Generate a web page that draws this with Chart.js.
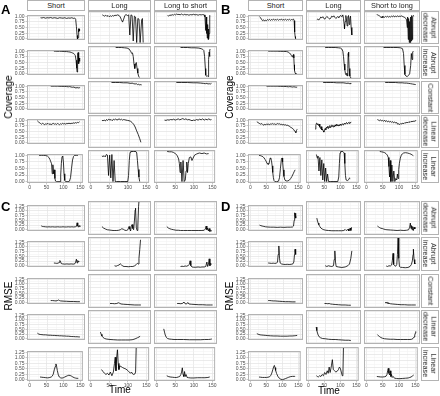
<!DOCTYPE html>
<html><head><meta charset="utf-8">
<script src="https://cdn.jsdelivr.net/npm/chart.js@4.4.1/dist/chart.umd.min.js"></script>
<style>
html,body{margin:0;padding:0;background:#fff}
body{width:440px;height:396px;position:relative;overflow:hidden;font-family:"Liberation Sans",Arial,sans-serif;-webkit-font-smoothing:antialiased}
canvas{position:absolute}
.strip{position:absolute;box-sizing:border-box;border:1px solid #b3b3b3;background:#fff;color:#1a1a1a;font-size:7.4px;display:flex;align-items:center;justify-content:center;text-align:center;white-space:nowrap}
.strip span{display:block;transform:rotate(90deg);will-change:transform;line-height:7.6px;font-size:7.2px;white-space:nowrap;text-align:center;color:#1a1a1a}
.t{position:absolute;color:#000;white-space:nowrap}
</style></head><body>
<script>
// ---------- categories & ticks ----------
const colsAC = ['Short','Long','Long to short'];
const colsBD = ['Short','Long','Short to long'];
const rowLabels = ['Abrupt\ndecrease','Abrupt\nincrease','Constant','Linear\ndecrease','Linear\nincrease'];
const timeTicks = [0,50,100,150];
const timeGrid = [0,25,50,75,100,125,150];
const covGrid = [0,0.125,0.25,0.375,0.5,0.625,0.75,0.875,1];
const rmseGrid = [0,0.125,0.25,0.375,0.5,0.625,0.75,0.875,1,1.125,1.25];

// ---------- Panel A: Coverage (Short / Long / Long to short) ----------
const A_abDec_short=[[31,.93],[35,.92],[40,.94],[45,.91],[50,.93],[55,.92],[60,.94],[65,.91],[70,.93],[75,.92],[80,.90],[85,.93],[90,.92],[95,.91],[100,.93],[105,.90],[110,.92],[115,.91],[120,.93],[125,.90],[128,.92],[131,.86],[133,.55],[135,.15],[136,0],[138,.05],[139,.45],[140,.3],[141,.44],[142,.35]];
const A_abDec_long=[[30,.92],[33,.9],[36,.88],[39,.91],[42,.87],[45,.9],[48,.86],[51,.89],[54,.87],[57,.9],[60,.88],[63,.91],[66,.9],[70,.92],[74,.9],[77,.85],[80,.76],[83,.68],[86,.78],[89,.9],[92,.93],[96,.9],[99,.92],[102,.25],[105,.92],[108,.9],[111,.05],[114,.88],[117,.85],[120,0],[123,.8],[126,.78],[129,0],[131,0],[133,.75],[135,.8],[137,0]];
const A_abDec_l2s=[[28,.9],[31,.88],[34,.92],[37,.9],[40,.93],[43,.91],[46,.94],[49,.92],[52,.95],[55,.93],[58,.94],[61,.92],[64,.95],[67,.93],[70,.92],[73,.94],[76,.92],[80,.93],[84,.91],[88,.93],[92,.92],[96,.94],[100,.92],[104,.93],[108,.91],[112,.93],[116,.92],[120,.93],[124,.92],[126,.85],[128,.4],[129,.85],[130,.3],[131,.7],[132,.15],[133,.6],[134,.1],[135,.45],[136,.12],[137,.3],[138,.85],[139,.9],[140,.88]];
const A_abInc_short=[[69,1],[75,1],[80,.99],[85,1],[90,.99],[95,.99],[100,.98],[105,.98],[110,.97],[115,.96],[119,.94],[122,.92],[125,.9],[128,.85],[130,.8],[132,.6],[134,.25],[135,.08],[136,.5],[137,.9],[138,.94],[139,.7],[140,.45],[141,.7],[142,.55],[143,.68]];
const A_abInc_long=[[65,1],[72,1],[80,1],[88,.99],[95,.98],[100,.95],[104,.88],[107,.8],[109,.82],[111,.7],[113,.45],[115,.3],[117,.45],[119,.5],[121,.3],[123,.15],[125,.05],[127,0],[128,0]];
const A_abInc_l2s=[[62,1],[70,1],[80,1],[90,.99],[100,.99],[110,.98],[116,.96],[120,.94],[123,.9],[125,.7],[127,.3],[128,.08],[130,.04],[132,.06],[134,.03],[135,.2],[136,.6],[137,.85],[138,.7],[139,.92],[140,.95]];
const A_const_short=[[60,1],[70,1],[80,1],[90,.99],[100,.99],[105,.98],[110,.97],[114,.98],[118,.96],[122,.95],[126,.96],[129,.93],[132,.92],[135,.94],[138,.92],[141,.93],[143,.94]];
const A_const_long=[[54,1],[65,1],[75,1],[85,.99],[95,.99],[100,.98],[105,.97],[108,.98],[112,.96],[116,.95],[119,.96],[122,.93],[125,.94],[128,.92],[131,.93],[133,.92]];
const A_const_l2s=[[51,1],[65,1],[80,1],[95,.99],[105,.99],[115,.98],[122,.97],[127,.96],[131,.97],[134,.95],[137,.96],[140,.95],[143,.97]];
const A_linDec_short=[[22,.97],[25,.93],[28,.88],[31,.85],[34,.82],[37,.86],[40,.83],[43,.8],[46,.84],[49,.82],[52,.86],[55,.81],[58,.84],[61,.8],[64,.83],[67,.86],[70,.82],[73,.84],[76,.81],[79,.85],[82,.83],[85,.8],[88,.84],[91,.82],[94,.86],[97,.83],[100,.85],[103,.82],[106,.86],[109,.84],[112,.87],[115,.84],[118,.86],[121,.85],[124,.88],[127,.86],[130,.89],[133,.87],[136,.9],[139,.89],[142,.93]];
const A_linDec_long=[[29,.87],[32,.86],[35,.88],[38,.85],[41,.9],[44,.87],[47,.91],[50,.88],[53,.9],[56,.86],[59,.91],[62,.89],[65,.92],[68,.88],[71,.9],[74,.92],[77,.89],[80,.91],[83,.88],[86,.9],[89,.89],[92,.88],[96,.87],[100,.86],[104,.84],[108,.8],[112,.74],[116,.65],[120,.52],[124,.4],[128,.26],[131,.14]];
const A_linDec_l2s=[[20,.88],[24,.87],[28,.89],[32,.88],[36,.9],[40,.89],[44,.91],[48,.88],[52,.9],[56,.92],[60,.89],[64,.91],[68,.93],[72,.9],[76,.92],[80,.89],[84,.9],[88,.88],[92,.86],[96,.88],[100,.87],[104,.9],[108,.88],[112,.91],[116,.89],[120,.92],[124,.88],[128,.91],[132,.89],[136,.92],[140,.89],[143,.9]];
const A_linInc_short=[[28,1],[35,1],[42,1],[48,.99],[53,.97],[57,.92],[60,.85],[63,.75],[65,.68],[67,.3],[69,.64],[71,.3],[73,.45],[75,.12],[77,.02],[80,0],[84,0],[90,0],[92,.25],[94,.7],[96,.95],[98,.97],[100,.75],[102,.3],[104,.05],[107,0],[114,0],[118,.02],[121,.15],[124,.5],[127,.82],[130,.96],[133,1],[138,1],[143,1]];
const A_linInc_long=[[30,.85],[33,.83],[36,.86],[39,.82],[42,.9],[45,.88],[48,.2],[51,.88],[54,.12],[57,.9],[60,0],[63,.7],[66,0],[70,0],[80,0],[90,0],[100,0],[102,.2],[104,.7],[106,.97],[108,1],[115,1],[122,1],[124,.95],[126,.7],[128,.4],[130,.15],[132,0]];
const A_linInc_l2s=[[28,1],[34,.99],[40,.99],[45,.97],[50,.93],[55,.87],[59,.75],[61,.6],[63,.3],[65,.65],[68,0],[71,.7],[74,0],[77,.05],[79,.35],[81,.65],[83,.3],[85,.6],[88,.8],[92,.82],[95,.7],[98,.78],[102,.88],[108,.92],[115,.95],[122,.93],[128,.95],[134,.92],[140,.93]];

// ---------- Panel B: Coverage (Short / Long / Short to long) ----------
const B_abDec_short=[[27,.98],[30,.93],[33,.86],[36,.8],[39,.84],[42,.78],[45,.83],[48,.8],[51,.85],[54,.82],[57,.86],[60,.81],[63,.85],[66,.83],[69,.87],[72,.82],[75,.85],[78,.83],[81,.86],[84,.82],[87,.85],[90,.84],[93,.87],[96,.82],[99,.85],[102,.83],[105,.86],[108,.82],[111,.85],[114,.83],[117,.86],[120,.82],[123,.85],[126,.84],[129,.87],[131,.8],[132,.55],[133,.3],[134,.1],[135,.02],[137,0],[139,0]];
const B_abDec_long=[[25,.76],[28,.78],[31,.75],[34,.8],[37,.85],[40,.82],[43,.86],[46,.8],[49,.78],[52,.83],[55,.87],[58,.84],[61,.8],[64,.78],[67,.82],[70,.88],[73,.85],[76,.89],[79,.84],[82,.8],[85,.83],[88,.87],[91,.82],[94,.88],[97,.9],[100,.86],[103,.92],[105,.8],[107,.6],[108,.45],[110,.7],[112,.9],[114,.75],[116,.55],[118,.85],[120,.9],[122,.6],[124,.8],[126,.88],[128,.5],[130,.25]];
const B_abDec_s2l=[[30,.93],[33,.92],[36,.9],[39,.88],[42,.85],[44,.82],[46,.87],[48,.83],[50,.86],[53,.84],[56,.87],[59,.85],[62,.88],[65,.84],[68,.87],[71,.85],[74,.88],[77,.86],[80,.89],[83,.85],[86,.88],[89,.86],[92,.89],[95,.86],[98,.88],[101,.87],[104,.89],[107,.86],[110,.85],[113,.83],[116,.8],[118,.75],[120,.5],[121,.85],[123,.1],[124,.8],[126,0],[127,.7],[129,0],[130,.85],[132,.05],[133,.9],[135,.1],[136,.85],[138,.9],[140,.88]];
const B_abInc_short=[[53,1],[60,1],[70,1],[80,1],[90,.99],[100,.99],[108,.98],[113,.96],[117,.92],[120,.87],[123,.8],[125,.75],[127,.82],[129,.85],[130,.7],[131,.4],[132,.15],[134,.03],[136,0],[138,0]];
const B_abInc_long=[[50,1],[60,1],[70,1],[80,1],[90,.99],[96,.98],[100,.95],[103,.88],[105,.7],[107,.45],[109,.25],[111,.12],[113,.08],[115,.15],[117,.05],[118,.3],[119,.8],[120,.85],[121,.7],[122,.3],[124,.05],[126,0],[128,0]];
const B_abInc_s2l=[[50,1],[60,1],[70,1],[80,1],[90,1],[100,.99],[106,.96],[109,.8],[111,.4],[113,.1],[116,.05],[120,.03],[124,.08],[127,.12],[130,.4],[132,.8],[134,.6],[136,.85],[138,.88]];
const B_const_short=[[48,1],[60,1],[70,1],[80,1],[90,.99],[100,.99],[108,.98],[114,.97],[118,.98],[122,.97],[126,.96],[130,.97],[134,.96],[137,.95],[140,.96]];
const B_const_long=[[44,1],[55,1],[65,1],[75,1],[85,.99],[95,.99],[104,.99],[110,.98],[115,.97],[119,.98],[122,.96],[125,.97],[127,.95]];
const B_const_s2l=[[55,1],[65,1],[75,1],[85,1],[95,.99],[105,.99],[112,.98],[118,.98],[124,.97],[130,.96],[135,.95],[140,.94],[145,.93]];
const B_linDec_short=[[19,.93],[22,.9],[25,.87],[28,.84],[31,.82],[34,.85],[37,.8],[40,.78],[43,.82],[46,.79],[49,.84],[52,.8],[55,.83],[58,.8],[61,.84],[64,.82],[67,.85],[70,.81],[73,.84],[76,.8],[79,.83],[82,.85],[85,.82],[88,.84],[91,.8],[94,.82],[97,.79],[100,.81],[103,.78],[106,.8],[109,.76],[112,.78],[115,.74],[118,.72],[121,.68],[124,.66],[127,.62],[130,.58],[132,.52],[134,.5],[136,.45],[138,.55],[140,.6]];
const B_linDec_long=[[20,.58],[22,.7],[24,.78],[26,.76],[28,.73],[30,.7],[32,.75],[34,.65],[36,.6],[38,.66],[40,.55],[42,.58],[44,.52],[46,.48],[48,.55],[50,.6],[52,.56],[54,.65],[56,.62],[58,.68],[60,.6],[62,.64],[64,.7],[66,.63],[68,.66],[70,.72],[72,.68],[74,.65],[76,.7],[78,.66],[80,.72],[82,.68],[84,.74],[86,.7],[88,.73],[90,.68],[92,.72],[94,.7],[96,.75],[98,.71],[100,.73],[102,.76],[104,.72],[106,.74],[108,.78],[110,.75],[112,.77],[114,.8],[116,.76],[118,.78],[120,.8],[122,.77],[124,.81],[126,.79],[128,.82]];
const B_linDec_s2l=[[32,.9],[35,.88],[38,.86],[41,.89],[44,.85],[47,.87],[50,.84],[53,.88],[56,.83],[59,.86],[62,.82],[65,.85],[68,.81],[71,.84],[74,.8],[77,.83],[80,.79],[83,.82],[86,.78],[89,.8],[92,.74],[95,.76],[98,.73],[101,.77],[104,.75],[107,.78],[110,.76],[113,.8],[116,.78],[119,.81],[122,.79],[125,.83],[128,.8],[131,.84],[134,.82],[137,.85],[140,.83],[143,.86],[145,.85]];
const B_linInc_short=[[27,1],[31,.99],[35,.97],[39,.95],[43,.9],[46,.84],[49,.78],[52,.7],[55,.66],[58,.67],[60,.78],[62,.9],[64,.88],[66,.8],[68,.6],[70,.35],[72,.15],[74,.04],[77,0],[82,0],[88,.02],[91,.15],[94,.5],[97,.85],[99,.9],[101,.75],[103,.45],[105,.2],[108,.06],[112,.03],[117,.03],[122,.06],[126,.12],[130,.2],[134,.3],[137,.38],[140,.45]];
const B_linInc_long=[[25,.9],[28,.78],[30,.85],[33,.35],[36,.8],[39,.2],[42,.72],[45,.05],[48,.6],[51,0],[54,.45],[57,0],[60,.25],[63,0],[70,0],[80,0],[92,0],[95,.15],[97,.6],[99,.95],[101,1],[108,1],[112,.95],[114,.6],[116,.2],[118,.05],[122,.03],[126,.06],[129,.12],[131,.1]];
const B_linInc_s2l=[[41,1],[46,.99],[51,.98],[56,.96],[60,.93],[64,.88],[67,.8],[69,.5],[71,.15],[73,.7],[75,0],[78,.55],[81,0],[84,.35],[87,0],[90,.1],[93,.05],[95,.25],[97,.1],[99,.4],[101,.6],[104,.78],[107,.88],[110,.92],[114,.95],[120,.96],[126,.95],[132,.93],[137,.91],[141,.88],[144,.86]];

// ---------- Panel C: RMSE (Short / Long / Long to short) ----------
const C_abDec_short=[[33,.21],[36,.18],[40,.17],[45,.16],[50,.15],[55,.16],[60,.15],[65,.16],[70,.15],[75,.15],[80,.16],[85,.15],[90,.15],[95,.16],[100,.15],[105,.15],[110,.16],[115,.15],[120,.16],[125,.15],[130,.16],[133,.18],[135,.37],[137,.2],[139,.14],[141,.22],[143,.17]];
const C_abDec_long=[[29,.28],[33,.22],[38,.18],[43,.15],[48,.14],[53,.13],[58,.12],[63,.12],[68,.12],[73,.13],[77,.15],[81,.19],[85,.17],[89,.13],[93,.12],[97,.15],[100,.28],[102,.18],[104,.1],[106,.3],[108,.36],[110,.2],[112,.15],[114,.5],[116,.95],[117,1.02],[119,.25],[121,.12],[123,.3],[125,1.1],[127,1.5]];
const C_abDec_l2s=[[26,.28],[30,.22],[34,.19],[38,.17],[44,.15],[50,.13],[56,.13],[62,.12],[70,.12],[80,.12],[90,.12],[100,.12],[110,.12],[118,.12],[124,.13],[127,.18],[129,.3],[131,.15],[133,.22],[135,.1],[137,.2],[139,.08],[141,.12],[144,.1]];
const C_abInc_short=[[69,.15],[73,.14],[77,.13],[81,.14],[84,.18],[86,.28],[88,.22],[90,.12],[94,.1],[100,.09],[106,.1],[112,.09],[118,.1],[124,.09],[128,.1],[131,.2],[133,.35],[135,.15],[137,.28],[139,.2],[141,.25]];
const C_abInc_long=[[62,.15],[66,.13],[70,.16],[74,.18],[77,.23],[80,.19],[83,.14],[87,.12],[92,.12],[98,.11],[104,.12],[110,.12],[115,.15],[119,.2],[122,.25],[124,.22],[126,.45],[128,.8],[130,1.2]];
const C_abInc_l2s=[[62,.12],[66,.13],[70,.12],[74,.14],[78,.13],[82,.16],[85,.2],[87,.35],[89,.15],[92,.1],[96,.09],[102,.09],[108,.1],[114,.09],[118,.1],[124,.1],[128,.12],[131,.3],[133,.12],[135,.2],[137,.43],[139,.15],[141,.25],[143,.2]];
const C_const_short=[[60,.12],[65,.12],[70,.11],[75,.1],[79,.12],[82,.15],[85,.12],[88,.1],[95,.09],[105,.08],[115,.07],[125,.07],[135,.06],[143,.06]];
const C_const_long=[[50,.12],[56,.12],[62,.11],[68,.12],[72,.15],[75,.13],[79,.1],[85,.09],[95,.08],[105,.07],[115,.06],[125,.06],[131,.06]];
const C_const_l2s=[[53,.12],[58,.12],[63,.11],[68,.13],[71,.18],[74,.11],[78,.1],[81,.16],[84,.1],[90,.09],[100,.08],[110,.07],[120,.07],[130,.06],[140,.06],[146,.06]];
const C_linDec_short=[[22,.3],[26,.25],[30,.23],[35,.22],[40,.21],[45,.21],[50,.2],[55,.19],[60,.19],[65,.18],[70,.18],[75,.17],[80,.17],[85,.16],[90,.16],[95,.15],[100,.15],[105,.14],[110,.14],[115,.13],[120,.12],[125,.12],[130,.11],[135,.11],[140,.1],[143,.1]];
const C_linDec_long=[[25,.42],[27,.33],[29,.26],[32,.2],[36,.16],[40,.14],[45,.13],[50,.12],[60,.11],[70,.1],[80,.1],[90,.1],[100,.1],[108,.11],[113,.13],[118,.16],[122,.19],[126,.22],[129,.25]];
const C_linDec_l2s=[[18,.55],[20,.42],[22,.3],[25,.2],[28,.16],[32,.14],[38,.13],[45,.12],[55,.12],[70,.12],[85,.11],[100,.11],[115,.11],[125,.12],[135,.12],[141,.13],[144,.14]];
const C_linInc_short=[[31,.12],[36,.11],[42,.1],[48,.09],[54,.08],[60,.1],[64,.12],[67,.16],[70,.25],[73,.45],[76,.6],[78,.72],[80,.6],[82,.42],[85,.22],[88,.12],[92,.08],[96,.07],[100,.09],[104,.12],[108,.15],[112,.18],[116,.2],[120,.19],[124,.16],[128,.12],[132,.09],[136,.07],[140,.06],[144,.06]];
const C_linInc_long=[[29,.4],[33,.32],[37,.25],[41,.2],[45,.25],[49,.18],[53,.3],[57,.15],[61,.3],[64,.65],[66,.9],[68,.35],[70,.9],[72,1.2],[74,.65],[76,.4],[78,.55],[82,.52],[86,.48],[90,.45],[95,.42],[100,.36],[104,.3],[107,.25],[110,.3],[113,.22],[116,.2],[119,.22],[121,.3],[123,1.5]];
const C_linInc_l2s=[[27,.15],[31,.12],[36,.1],[42,.09],[48,.08],[54,.08],[58,.1],[62,.12],[65,.2],[67,.3],[69,.47],[71,.2],[73,.12],[75,.32],[77,.12],[79,.2],[82,.08],[86,.07],[92,.06],[100,.06],[110,.07],[120,.07],[130,.07],[138,.08],[143,.1]];

// ---------- Panel D: RMSE (Short / Long / Short to long) ----------
const D_abDec_short=[[27,.25],[31,.22],[35,.2],[40,.18],[45,.16],[50,.15],[60,.14],[70,.14],[80,.13],[90,.14],[100,.13],[110,.14],[120,.14],[126,.15],[129,.2],[131,.5],[132,.82],[133,.9],[134,.72],[135,.88],[136,.62],[137,.7]];
const D_abDec_long=[[25,.62],[27,.5],[29,.42],[31,.35],[34,.28],[37,.22],[41,.18],[46,.15],[52,.13],[60,.12],[70,.11],[80,.11],[90,.11],[100,.11],[106,.12],[110,.16],[113,.12],[116,.14],[119,.18],[121,.1],[123,.15],[125,.22],[127,.12],[129,.25]];
const D_abDec_s2l=[[32,.3],[35,.27],[38,.24],[42,.21],[46,.2],[50,.18],[55,.16],[60,.15],[70,.14],[80,.13],[90,.12],[100,.13],[110,.12],[118,.13],[124,.15],[127,.25],[129,.42],[131,.2],[132,.32],[134,.15],[136,.28],[138,.12],[140,.25],[142,.18],[144,.24]];
const D_abInc_short=[[53,.15],[58,.14],[63,.13],[68,.14],[73,.13],[78,.14],[81,.2],[83,.6],[85,1.05],[87,.4],[89,.15],[93,.1],[98,.08],[104,.07],[110,.08],[116,.07],[122,.08],[127,.1],[130,.2],[132,.6],[133,.85],[134,.88],[135,.7],[136,.6]];
const D_abInc_long=[[50,.15],[55,.12],[60,.15],[65,.13],[70,.12],[75,.15],[77,.4],[79,.75],[81,.3],[83,.12],[90,.1],[100,.08],[110,.1],[118,.15],[123,.22],[127,.45],[130,.75]];
const D_abInc_s2l=[[58,.14],[62,.12],[66,.15],[70,.14],[74,.18],[76,.35],[78,.65],[80,.2],[83,.15],[86,.13],[89,.2],[91,.6],[93,1.35],[95,.45],[97,.12],[100,.09],[106,.08],[114,.07],[122,.08],[128,.12],[132,.2],[135,.35],[137,.6],[138,.82],[140,.4],[142,.22],[144,.25]];
const D_const_short=[[53,.12],[58,.12],[63,.11],[68,.1],[74,.1],[80,.09],[88,.08],[96,.07],[105,.06],[115,.06],[125,.05],[135,.05]];
const D_const_long=[[48,.12],[53,.12],[58,.11],[62,.12],[66,.1],[72,.09],[80,.08],[90,.07],[100,.06],[110,.06],[120,.05],[127,.05]];
const D_const_s2l=[[55,.15],[57,.18],[59,.14],[61,.16],[63,.12],[66,.13],[70,.11],[76,.1],[84,.09],[92,.08],[102,.07],[112,.07],[122,.06],[132,.06],[140,.06],[145,.06]];
const D_linDec_short=[[19,.28],[22,.25],[25,.23],[29,.21],[34,.2],[40,.19],[46,.18],[52,.17],[60,.16],[70,.15],[80,.15],[90,.14],[100,.14],[110,.14],[118,.15],[125,.15],[131,.16],[136,.17],[140,.18]];
const D_linDec_long=[[23,.62],[25,.48],[27,.38],[29,.3],[32,.23],[36,.19],[42,.16],[50,.15],[60,.13],[70,.12],[80,.12],[90,.11],[100,.1],[110,.09],[120,.09],[127,.08]];
const D_linDec_s2l=[[32,.32],[35,.27],[38,.24],[42,.2],[47,.17],[53,.15],[60,.14],[70,.13],[80,.13],[90,.12],[100,.12],[110,.12],[120,.12],[128,.12],[133,.13],[137,.16],[140,.22],[142,.3],[144,.38],[145,.45]];
const D_linInc_short=[[27,.12],[32,.11],[38,.1],[44,.1],[50,.1],[55,.11],[60,.13],[64,.2],[67,.3],[70,.45],[73,.6],[75,.65],[77,.55],[79,.42],[82,.28],[86,.15],[90,.07],[95,.02],[100,0],[105,.02],[110,.05],[115,.08],[120,.11],[126,.14],[132,.15],[137,.15],[140,.15]];
const D_linInc_long=[[25,.15],[28,.12],[31,.1],[35,.15],[39,.12],[43,.2],[47,.15],[51,.28],[55,.2],[59,.35],[62,.25],[65,.5],[68,.28],[72,.55],[75,.8],[78,.4],[82,.35],[86,.3],[90,.33],[94,.4],[97,.5],[100,.45],[103,.3],[106,.15],[108,.2],[110,1.5]];
const D_linInc_s2l=[[32,.12],[38,.11],[44,.1],[50,.1],[56,.11],[60,.13],[63,.2],[65,.35],[67,.45],[69,.25],[71,.18],[73,.35],[75,.12],[77,.2],[79,.08],[82,.12],[86,.05],[92,.04],[100,.03],[110,.04],[120,.05],[128,.06],[133,.08],[137,.1],[141,.14],[145,.18]];

// ---------- layout ----------
Chart.defaults.font.family = '"Liberation Sans", Arial, sans-serif';
const colsL = [[27,85],[88,151],[154,217]];
const colsR = [[248,303],[306,361],[364,420]];
const rowsT = [[11,44],[46,79],[81,114],[115,148],[150,183]];
const rowsB = [[201,235],[237,271],[274,308],[310,344],[347,381]];

const panels = [
  {letter:'A', lx:1, ly:3, cols:colsL, rows:rowsT, names:colsAC, topStrip:true, rightStrip:false, grid:covGrid, ymin:-0.05, ymax:1.05, ytitle:'Coverage', tx:9, ty:97, xtitle:null,
   series:[[A_abDec_short,A_abDec_long,A_abDec_l2s],[A_abInc_short,A_abInc_long,A_abInc_l2s],[A_const_short,A_const_long,A_const_l2s],[A_linDec_short,A_linDec_long,A_linDec_l2s],[A_linInc_short,A_linInc_long,A_linInc_l2s]]},
  {letter:'B', lx:221, ly:3, cols:colsR, rows:rowsT, names:colsBD, topStrip:true, rightStrip:true, grid:covGrid, ymin:-0.05, ymax:1.05, ytitle:'Coverage', tx:230, ty:97, xtitle:null,
   series:[[B_abDec_short,B_abDec_long,B_abDec_s2l],[B_abInc_short,B_abInc_long,B_abInc_s2l],[B_const_short,B_const_long,B_const_s2l],[B_linDec_short,B_linDec_long,B_linDec_s2l],[B_linInc_short,B_linInc_long,B_linInc_s2l]]},
  {letter:'C', lx:1, ly:200, cols:colsL, rows:rowsB, names:null, topStrip:false, rightStrip:false, grid:rmseGrid, ymin:-0.0625, ymax:1.3125, ytitle:'RMSE', tx:9, ty:296, xtitle:[120,390],
   series:[[C_abDec_short,C_abDec_long,C_abDec_l2s],[C_abInc_short,C_abInc_long,C_abInc_l2s],[C_const_short,C_const_long,C_const_l2s],[C_linDec_short,C_linDec_long,C_linDec_l2s],[C_linInc_short,C_linInc_long,C_linInc_l2s]]},
  {letter:'D', lx:221, ly:200, cols:colsR, rows:rowsB, names:null, topStrip:false, rightStrip:true, grid:rmseGrid, ymin:-0.0625, ymax:1.3125, ytitle:'RMSE', tx:230, ty:296, xtitle:[329,391],
   series:[[D_abDec_short,D_abDec_long,D_abDec_s2l],[D_abInc_short,D_abInc_long,D_abInc_s2l],[D_const_short,D_const_long,D_const_s2l],[D_linDec_short,D_linDec_long,D_linDec_s2l],[D_linInc_short,D_linInc_long,D_linInc_s2l]]}
];

const borderPlugin = {id:'pborder', afterDraw(c){const a=c.chartArea,ctx=c.ctx;ctx.save();ctx.strokeStyle='#b3b3b3';ctx.lineWidth=1;ctx.strokeRect(a.left+0.5,a.top+0.5,a.right-a.left-1,a.bottom-a.top-1);ctx.restore();}};

const isMajY = v => Math.abs(v*4-Math.round(v*4))<1e-6;
const isMajX = v => timeTicks.includes(v);

function facet(cx, ry, data, p, showY, showX){
  const L = showY?25:0, B = showX?8:0;
  const w = cx[1]-cx[0], h = ry[1]-ry[0];
  const cv = document.createElement('canvas');
  cv.width = w+L; cv.height = h+B;
  cv.style.left = (cx[0]-L)+'px'; cv.style.top = ry[0]+'px';
  cv.style.width = (w+L)+'px'; cv.style.height = (h+B)+'px';
  document.body.appendChild(cv);
  new Chart(cv, {
    type:'line',
    data:{datasets:[{data:data.map(q=>({x:q[0],y:q[1]})), borderColor:'#000', borderWidth:0.8, pointRadius:0, tension:0, fill:false}]},
    options:{
      responsive:false, animation:false, events:[], devicePixelRatio:1,
      layout:{padding:0},
      plugins:{legend:{display:false}, tooltip:{enabled:false}},
      scales:{
        x:{type:'linear', min:-7.5, max:157.5,
           afterBuildTicks:s=>{s.ticks=timeGrid.map(v=>({value:v}));},
           afterFit:s=>{s.height=B;},
           ticks:{display:showX, autoSkip:false, maxRotation:0, padding:0.5, font:{size:5}, color:'#4d4d4d', callback:v=>isMajX(v)?String(v):''},
           grid:{color:c=>isMajX(c.tick.value)?'#e2e2e2':'#f1f1f1', lineWidth:c=>isMajX(c.tick.value)?0.7:0.5, drawTicks:showX, tickLength:1.5, tickColor:c=>isMajX(c.tick.value)?'#b3b3b3':'rgba(0,0,0,0)'},
           border:{display:false}},
        y:{type:'linear', min:p.ymin, max:p.ymax,
           afterBuildTicks:s=>{s.ticks=p.grid.map(v=>({value:v}));},
           afterFit:s=>{s.width=L;},
           ticks:{display:showY, autoSkip:false, padding:1, font:{size:5}, color:'#4d4d4d', callback:v=>isMajY(v)?v.toFixed(2):''},
           grid:{color:c=>isMajY(c.tick.value)?'#e2e2e2':'#f1f1f1', lineWidth:c=>isMajY(c.tick.value)?0.7:0.5, drawTicks:showY, tickLength:1.5, tickColor:c=>isMajY(c.tick.value)?'#b3b3b3':'rgba(0,0,0,0)'},
           border:{display:false}}
      }
    },
    plugins:[borderPlugin]
  });
}

function addDiv(cls, html, style){
  const d=document.createElement('div'); d.className=cls; d.innerHTML=html; Object.assign(d.style,style); document.body.appendChild(d); return d;
}

panels.forEach(p=>{
  p.series.forEach((row,ri)=>{
    row.forEach((s,ci)=>facet(p.cols[ci], p.rows[ri], s, p, ci===0, ri===4));
    if(p.rightStrip){
      const r=p.rows[ri];
      addDiv('strip', '<span>'+rowLabels[ri].replace('\n','<br>')+'</span>', {left:'421px', top:r[0]+'px', width:'18px', height:(r[1]-r[0])+'px'});
    }
  });
  if(p.topStrip){
    p.cols.forEach((c,ci)=>addDiv('strip', p.names[ci], {left:c[0]+'px', top:'0px', width:(c[1]-c[0])+'px', height:'11px'}));
  }
  addDiv('t', p.letter, {left:p.lx+'px', top:p.ly+'px', fontSize:'13px', fontWeight:'bold', lineHeight:'13px'});
  addDiv('t', p.ytitle, {left:p.tx+'px', top:p.ty+'px', fontSize:'10px', lineHeight:'10px', transform:'translate(-50%,-50%) rotate(-90deg)'});
  if(p.xtitle) addDiv('t', 'Time', {left:p.xtitle[0]+'px', top:p.xtitle[1]+'px', fontSize:'10px', lineHeight:'10px', transform:'translate(-50%,-50%)'});
});
</script>
</body></html>
